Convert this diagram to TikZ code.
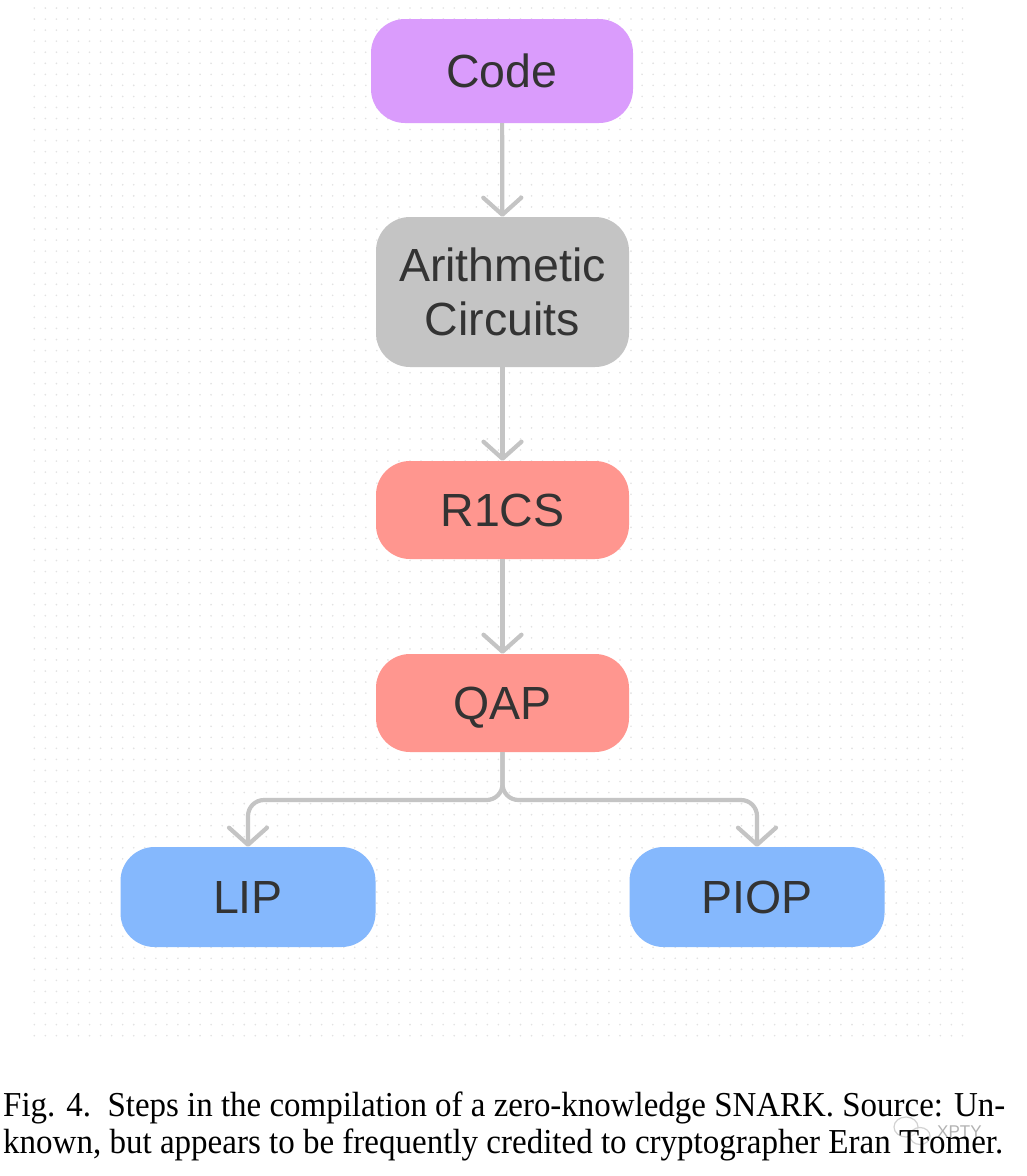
\documentclass[tikz,border=0pt]{standalone}
\usepackage{fontspec}
\usepackage{graphicx}
\setmainfont{Liberation Serif}
\newfontfamily\nodefont{Liberation Sans}
\usetikzlibrary{arrows.meta}
\definecolor{codec}{HTML}{DA9CFC}
\definecolor{arithc}{HTML}{C4C4C4}
\definecolor{salmonc}{HTML}{FF968F}
\definecolor{bluec}{HTML}{85B8FD}
\definecolor{arrowc}{HTML}{C4C4C4}
\definecolor{txtc}{HTML}{333333}
\definecolor{dotc}{HTML}{E2E2E2}
\tikzset{
  box/.style={rounded corners=34pt, minimum width=255pt, minimum height=100pt,
    inner sep=0pt, text=txtc, font=\nodefont\fontsize{46.5}{54}\selectfont, align=center},
  conn/.style={draw=arrowc, line width=4.2pt, line join=round,
    -{Straight Barb[length=17pt,width=38pt,round]}},
  captext/.style={anchor=base west, inner sep=0pt, font=\fontsize{35}{37}\selectfont},
}
\begin{document}
\begin{tikzpicture}[x=1pt,y=-1pt]
\useasboundingbox[fill=white] (0,0) rectangle (1026,1176);
% dot grid
\foreach \i in {0,...,84}{
  \fill[dotc] \foreach \j in {0,...,93}{ (34.3+\i*11.05, 8+\j*11.05) circle (0.9pt) };
}
% nodes
\node[box, fill=codec, minimum width=262pt, minimum height=104pt] (code) at (502,71) {Code};
\node[box, fill=arithc, minimum width=253pt, minimum height=150pt] (arith) at (502.5,292) {Arithmetic\\Circuits};
\node[box, fill=salmonc, minimum width=253pt, minimum height=98pt] (r1cs) at (502.5,510) {R1CS};
\node[box, fill=salmonc, minimum width=253pt, minimum height=98pt, text depth=0pt] (qap) at (502.5,703) {QAP};
\node[box, fill=bluec] (lip) at (248,897) {LIP};
\node[box, fill=bluec] (piop) at (757,897) {PIOP};
% connectors
\coordinate (split) at (502.5,800);
\draw[conn] (code) -- (arith);
\draw[conn] (arith) -- (r1cs);
\draw[conn] (r1cs) -- (qap);
\draw[conn, rounded corners=16pt] (qap.south) -- (split) -| (lip.north);
\draw[conn, rounded corners=16pt] (qap.south) -- (split) -| (piop.north);
% watermark
\draw[gray!35, line width=1.2pt] (906,1127) ellipse (12pt and 10pt);
\draw[gray!35, line width=1.2pt, fill=white, fill opacity=0.6] (920,1136) ellipse (10pt and 8.5pt);
\node[anchor=base west, inner sep=0pt, text=gray!60, font=\nodefont\fontsize{17}{17}\selectfont] (wm) at (937,1137) {XPTY};
% caption
\node[captext] (cap1) at (3,1116) {\resizebox{1002pt}{\height}{Fig. 4.\ \ Steps in the compilation of a zero-knowledge SNARK. Source: Un-}};
\node[captext] (cap2) at (3,1153) {\resizebox{1000pt}{\height}{known, but appears to be frequently credited to cryptographer Eran Tromer.}};
\end{tikzpicture}
\end{document}
